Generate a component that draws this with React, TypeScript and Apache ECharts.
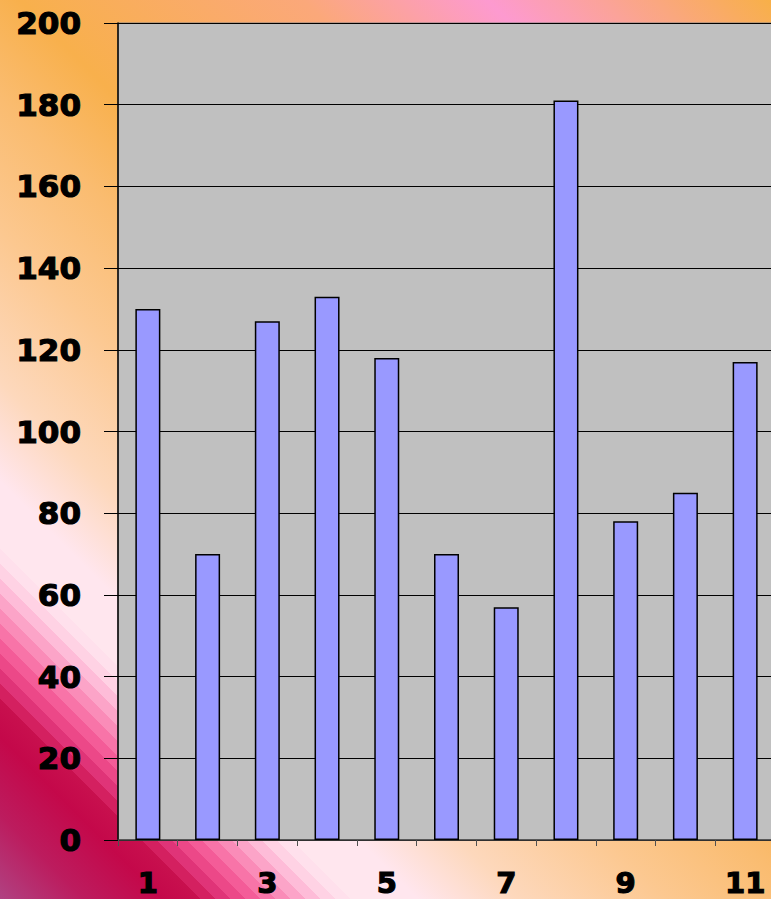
import React, { useEffect, useRef } from "react";
import * as echarts from "echarts";

const categories = ["1", "2", "3", "4", "5", "6", "7", "8", "9", "10", "11"];
const values = [130, 70, 127, 133, 118, 70, 57, 181, 78, 85, 117];
const yTicks = { min: 0, max: 200, interval: 20 };

const bgStops = [
  [0, "#b04282"],
  [0.05, "#bc1c5e"],
  [0.097, "#c4084a"],
  [0.12, "#c8104e"],
  [0.12, "#d42060"],
  [0.129, "#d42060"],
  [0.129, "#e03478"],
  [0.138, "#e03478"],
  [0.138, "#ec4888"],
  [0.147, "#ec4888"],
  [0.147, "#f45c98"],
  [0.156, "#f45c98"],
  [0.156, "#f874a8"],
  [0.165, "#f874a8"],
  [0.165, "#fa8cb8"],
  [0.174, "#fa8cb8"],
  [0.174, "#fca4c8"],
  [0.183, "#fca4c8"],
  [0.183, "#febcd8"],
  [0.192, "#febcd8"],
  [0.192, "#ffd2e4"],
  [0.201, "#ffd2e4"],
  [0.201, "#ffe0ec"],
  [0.21, "#ffe0ec"],
  [0.21, "#ffe6ee"],
  [0.25, "#ffe6ee"],
  [0.31, "#fdd8bc"],
  [0.4, "#fcc890"],
  [0.48, "#fabc70"],
  [0.55, "#f8b04c"],
  [0.72, "#fba87a"],
  [0.83, "#fd9ad0"],
  [1, "#f8b048"],
];

const labelFont = {
  color: "#000",
  fontFamily: "DejaVu Sans",
  fontWeight: "bold",
  fontSize: 31,
  textBorderColor: "#000",
  textBorderWidth: 1.2,
};

export default function App() {
  const ref = useRef<HTMLDivElement>(null);
  useEffect(() => {
    const chart = echarts.init(ref.current!, undefined, { renderer: "svg" });
    const bg = new echarts.graphic.LinearGradient(
      0,
      899,
      835,
      64,
      bgStops.map(([o, c]) => ({ offset: o as number, color: c as string })),
      true
    );
    chart.setOption({
      animation: false,
      backgroundColor: bg,
      grid: {
        left: 118,
        top: 23,
        bottom: 59,
        width: 657,
        outerBoundsMode: "none",
        containLabel: false,
        show: true,
        backgroundColor: "#c0c0c0",
        borderColor: "#808080",
        borderWidth: 1,
      },
      xAxis: {
        type: "category",
        data: categories,
        boundaryGap: true,
        axisLine: { show: true, lineStyle: { color: "#404040", width: 1.5 } },
        axisTick: { show: true, length: 6, lineStyle: { color: "#505050", width: 1 }, interval: 0 },
        axisLabel: { ...labelFont, fontSize: 29, interval: 1, margin: 28 },
        splitLine: { show: false },
      },
      yAxis: {
        type: "value",
        min: yTicks.min,
        max: yTicks.max,
        interval: yTicks.interval,
        axisLine: { show: true, lineStyle: { color: "#000", width: 1.5 } },
        axisTick: { show: true, length: 14, lineStyle: { color: "#000", width: 1 } },
        axisLabel: { ...labelFont, margin: 37 },
        splitLine: { show: true, lineStyle: { color: "#000", width: 1 } },
      },
      series: [
        {
          type: "bar",
          data: values,
          barWidth: 25,
          itemStyle: { color: "#9999ff", borderColor: "#000", borderWidth: 1.5 },
        },
      ],
    });
    return () => chart.dispose();
  }, []);
  return (
    <div
      ref={ref}
      style={{ position: "fixed", left: 0, top: 0, width: 771, height: 899 }}
    />
  );
}
